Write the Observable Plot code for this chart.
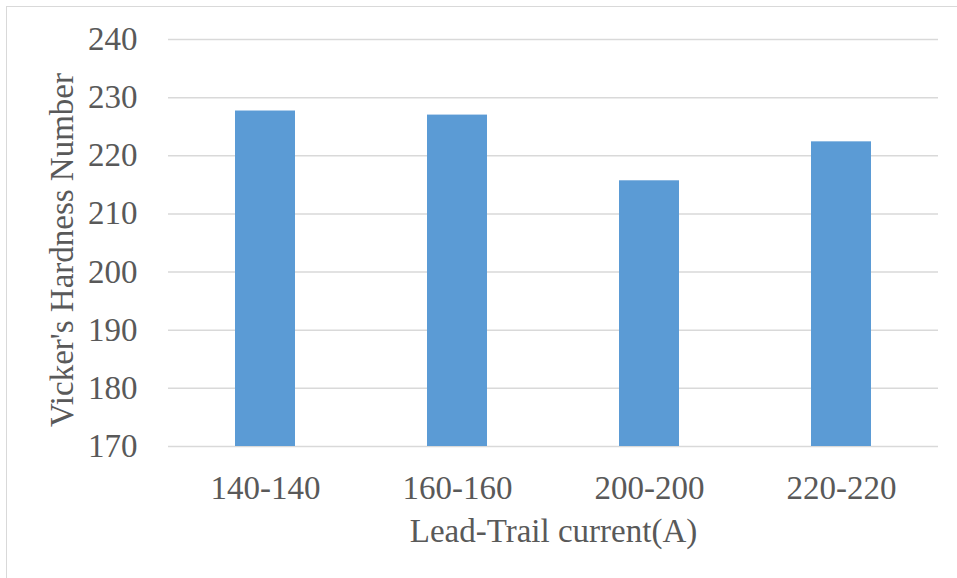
<!DOCTYPE html>
<html>
<head>
<meta charset="utf-8">
<script src="https://cdn.jsdelivr.net/npm/d3@7"></script>
<script src="https://cdn.jsdelivr.net/npm/@observablehq/plot@0.6"></script>
<style>
  html, body { margin: 0; padding: 0; background: #fff; overflow: hidden; }
  #wrap { position: relative; width: 957px; height: 578px; }
  #wrap svg { position: absolute; left: 0; top: 0; }
  #border { position: absolute; left: 6px; top: 6px; width: 1000px; height: 1000px;
            border: 1.5px solid #d9d9d9; pointer-events: none; box-sizing: border-box; }
</style>
</head>
<body>
<div id="wrap"><div id="border"></div></div>
<script>
// Lead-Trail welding current settings and measured Vickers hardness
const currents = ["140-140", "160-160", "200-200", "220-220"];
const hardness = [227.7, 227.0, 215.7, 222.4];
const yTicks = [170, 180, 190, 200, 210, 220, 230, 240];
const xTitle = "Lead-Trail current(A)";
const yTitle = "Vicker's Hardness Number";

const rows = currents.map((c, i) => ({current: c, hv: hardness[i]}));
const base = yTicks[0];
const textColor = "#595959";
const font = "'Liberation Serif', serif";

const chart = Plot.plot({
  width: 957,
  height: 578,
  marginLeft: 168,
  marginRight: 19,
  marginTop: 39,
  marginBottom: 132,
  style: {fontFamily: font, fontSize: "33px", color: textColor, background: "transparent"},
  x: {domain: currents, paddingInner: 0.688, paddingOuter: 0.344, label: null},
  y: {domain: [yTicks[0], yTicks[yTicks.length - 1]], label: null},
  marks: [
    Plot.ruleY(yTicks, {stroke: "#d9d9d9", strokeWidth: 1.5}),
    Plot.barY(rows, {x: "current", y1: () => base, y2: "hv", fill: "#5b9bd5"}),
    Plot.axisY({ticks: yTicks, tickSize: 0, tickPadding: 31, label: null,
                fill: textColor, fontSize: 33}),
    Plot.axisX({tickSize: 0, tickPadding: 29, label: null, fill: textColor, fontSize: 33}),
    Plot.text([xTitle], {frameAnchor: "bottom", lineAnchor: "middle", dy: 85,
                         fill: textColor, fontSize: 33}),
    Plot.text([yTitle], {frameAnchor: "left", textAnchor: "middle", lineAnchor: "middle",
                         rotate: -90, dx: -106, dy: 7, fill: textColor, fontSize: 33})
  ]
});
document.getElementById("wrap").insertBefore(chart, document.getElementById("border"));
</script>
</body>
</html>
